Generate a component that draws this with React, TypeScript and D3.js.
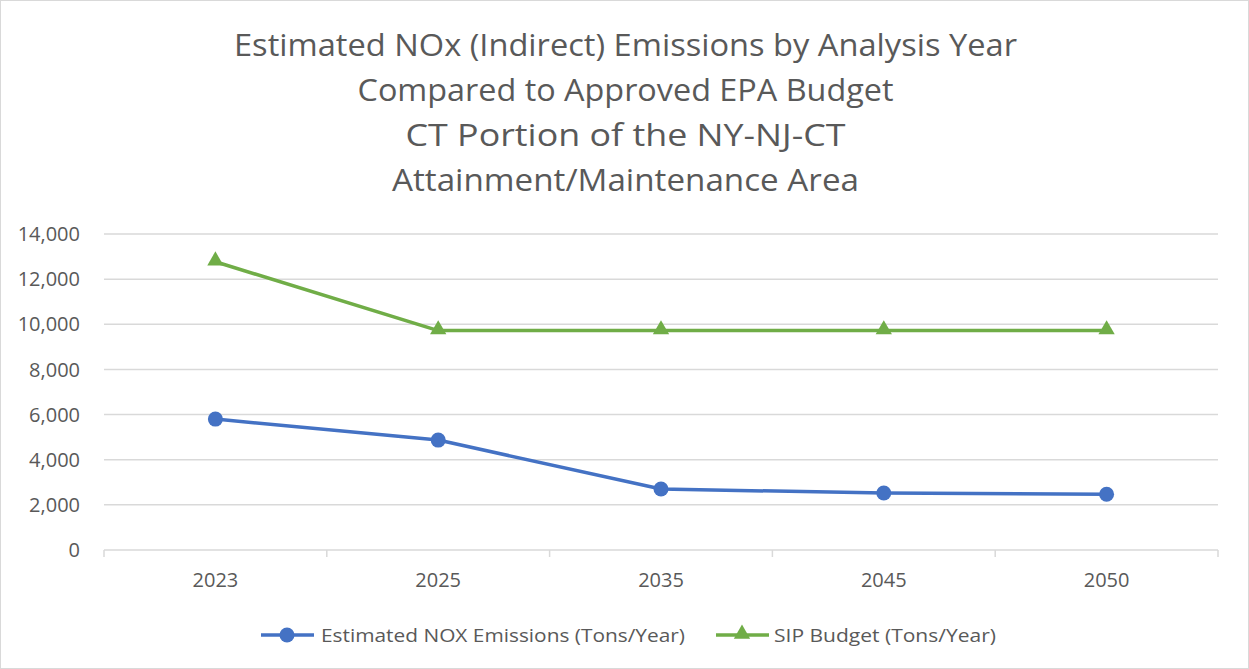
import React from "react";
import * as d3 from "d3";

const years = ["2023", "2025", "2035", "2045", "2050"];
const noxEmissions = [5800, 4870, 2700, 2525, 2470];
const sipBudget = [12770, 9720, 9720, 9720, 9720];
const yTicks = [0, 2000, 4000, 6000, 8000, 10000, 12000, 14000];
const titleLines = [
  "Estimated NOx (Indirect) Emissions by Analysis Year",
  "Compared to Approved EPA Budget",
  "CT Portion of the NY-NJ-CT",
  "Attainment/Maintenance Area",
];
const titleWidths = [783, 536, 440, 467];
const seriesNames = ["Estimated NOX Emissions (Tons/Year)", "SIP Budget (Tons/Year)"];

const W = 1249, H = 669;
const FONT = "'Open Sans', sans-serif";
const TXT = "#595959";
const BLUE = "#4472C4";
const GREEN = "#70AD47";

export default function App() {
  // plot area
  const left = 104, right = 1218, top = 234, bottom = 550;

  const x = d3.scaleBand().domain(years).range([left, right]);
  const y = d3.scaleLinear().domain([0, 14000]).range([bottom, top]);
  const cx = (d: string) => (x(d) as number) + x.bandwidth() / 2;

  const line = d3.line<number>()
    .x((d, i) => cx(years[i]))
    .y(d => y(d));

  const tri = d3.symbol().type(d3.symbolTriangle).size(115)();
  const fmt = d3.format(",");

  // tick positions at band boundaries
  const bounds = years.map(d => x(d) as number).concat([right]);

  return (
    <svg width={W} height={H} style={{ position: "absolute", left: 0, top: 0, background: "#fff" }}
      fontFamily={FONT}>
      <rect x={0.5} y={0.5} width={W - 1} height={H - 1} fill="#fff" stroke="#d9d9d9" />

      {titleLines.map((t, i) => (
        <text key={t} x={W / 2 + 1} y={56 + i * 45} textAnchor="middle" fontSize={31} fill={TXT}
          textLength={titleWidths[i]} lengthAdjust="spacingAndGlyphs">{t}</text>
      ))}

      {/* gridlines */}
      {yTicks.map(t => (
        <line key={t} x1={left} x2={right} y1={y(t)} y2={y(t)} stroke="#d9d9d9" strokeWidth={1.5} />
      ))}
      {bounds.map((b, i) => (
        <line key={i} x1={b} x2={b} y1={bottom} y2={bottom + 7} stroke="#d9d9d9" strokeWidth={1.5} />
      ))}

      {/* y labels */}
      {yTicks.map(t => (
        <text key={t} x={80} y={y(t)} dy="0.36em" textAnchor="end" fontSize={20} fill={TXT}>{fmt(t)}</text>
      ))}
      {/* x labels */}
      {years.map(d => (
        <text key={d} x={cx(d)} y={587} textAnchor="middle" fontSize={20} fill={TXT}>{d}</text>
      ))}

      {/* series */}
      <path d={line(sipBudget) || ""} fill="none" stroke={GREEN} strokeWidth={3.5} strokeLinejoin="round" />
      {sipBudget.map((v, i) => (
        <path key={i} d={tri || ""} transform={`translate(${cx(years[i])},${y(v) - 1})`} fill={GREEN} />
      ))}
      <path d={line(noxEmissions) || ""} fill="none" stroke={BLUE} strokeWidth={3.5} strokeLinejoin="round" />
      {noxEmissions.map((v, i) => (
        <circle key={i} cx={cx(years[i])} cy={y(v)} r={7.5} fill={BLUE} />
      ))}

      {/* legend */}
      <g transform="translate(0,635)">
        <line x1={261} x2={314} y1={0} y2={0} stroke={BLUE} strokeWidth={3.5} />
        <circle cx={287} cy={0} r={7.5} fill={BLUE} />
        <text x={321} y={0} dy="0.36em" fontSize={19} fill={TXT}
          textLength={364} lengthAdjust="spacingAndGlyphs">{seriesNames[0]}</text>
        <line x1={716} x2={769} y1={0} y2={0} stroke={GREEN} strokeWidth={3.5} />
        <path d={tri || ""} transform="translate(742,-1)" fill={GREEN} />
        <text x={774} y={0} dy="0.36em" fontSize={19} fill={TXT}
          textLength={222} lengthAdjust="spacingAndGlyphs">{seriesNames[1]}</text>
      </g>
    </svg>
  );
}
